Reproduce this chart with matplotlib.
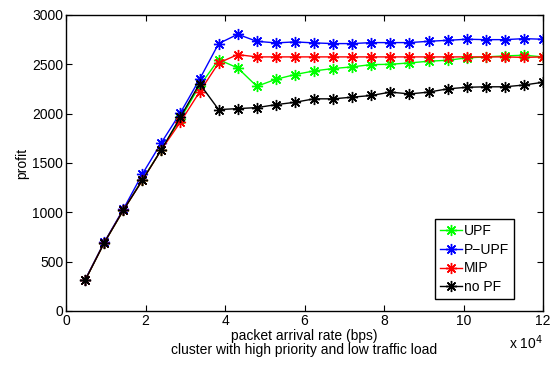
import matplotlib
matplotlib.use("Agg")
import matplotlib.pyplot as plt
import numpy as np

plt.rcParams['font.family'] = ['Liberation Sans', 'DejaVu Sans']

# packet arrival rate in units of 1e4 bps
rate = [0.48, 0.96, 1.44, 1.92, 2.40, 2.88, 3.36, 3.84, 4.32, 4.80, 5.28, 5.76, 6.24,
        6.72, 7.20, 7.68, 8.16, 8.64, 9.12, 9.60, 10.08, 10.56, 11.04, 11.52, 12.00]

upf = [310, 690, 1020, 1330, 1635, 1950, 2281, 2548, 2463, 2277, 2348, 2396, 2433,
       2457, 2474, 2497, 2500, 2514, 2531, 2541, 2565, 2575, 2585, 2592, 2575]
pupf = [315, 695, 1030, 1387, 1706, 2010, 2348, 2710, 2804, 2733, 2717, 2727, 2717,
        2710, 2710, 2720, 2720, 2720, 2733, 2743, 2754, 2750, 2750, 2760, 2754]
mip = [310, 690, 1020, 1324, 1635, 1916, 2220, 2514, 2598, 2575, 2575, 2575, 2575,
       2575, 2575, 2575, 2575, 2575, 2575, 2575, 2575, 2575, 2575, 2570, 2575]
nopf = [310, 690, 1020, 1324, 1635, 1967, 2304, 2041, 2051, 2061, 2091, 2115, 2150,
        2150, 2167, 2184, 2218, 2200, 2218, 2251, 2267, 2272, 2272, 2290, 2318]

ast = (8, 2, 0)  # matlab-like asterisk

fig = plt.figure(figsize=(5.51, 3.65), dpi=100)
ax = fig.add_axes([0.1198, 0.148, 0.8657, 0.811])

ax.plot(rate, upf, color='#00ff00', marker=ast, markersize=8, linewidth=1.0, label='UPF')
ax.plot(rate, pupf, color='#0000ff', marker=ast, markersize=8, linewidth=1.0, label='P\u2212UPF')
ax.plot(rate, mip, color='#ff0000', marker=ast, markersize=8, linewidth=1.0, label='MIP')
ax.plot(rate, nopf, color='black', marker=ast, markersize=8, linewidth=1.0, label='no PF')

ax.set_xlim(0, 12)
ax.set_ylim(0, 3000)
ax.set_xticks([0, 2, 4, 6, 8, 10, 12])
ax.set_yticks([0, 500, 1000, 1500, 2000, 2500, 3000])
ax.tick_params(direction='in', top=True, right=True, labelsize=10, length=4, pad=2)
for s in ax.spines.values():
    s.set_linewidth(1.0)

ax.set_ylabel('profit', fontsize=10, labelpad=2)
ax.set_xlabel('packet arrival rate (bps)\ncluster with high priority and low traffic load',
              fontsize=10, labelpad=1, linespacing=1.0)
ax.text(1.0, -0.075, r'x 10$^4$', transform=ax.transAxes, ha='right', va='top', fontsize=10)

leg = ax.legend(loc='lower right', bbox_to_anchor=(0.94, 0.04), fontsize=10,
                fancybox=False, framealpha=1, edgecolor='black', handlelength=1.6,
                handletextpad=0.15, borderpad=0.35, labelspacing=0.35, borderaxespad=0)
leg.get_frame().set_linewidth(1.0)

fig.savefig('out.png', dpi=100)
